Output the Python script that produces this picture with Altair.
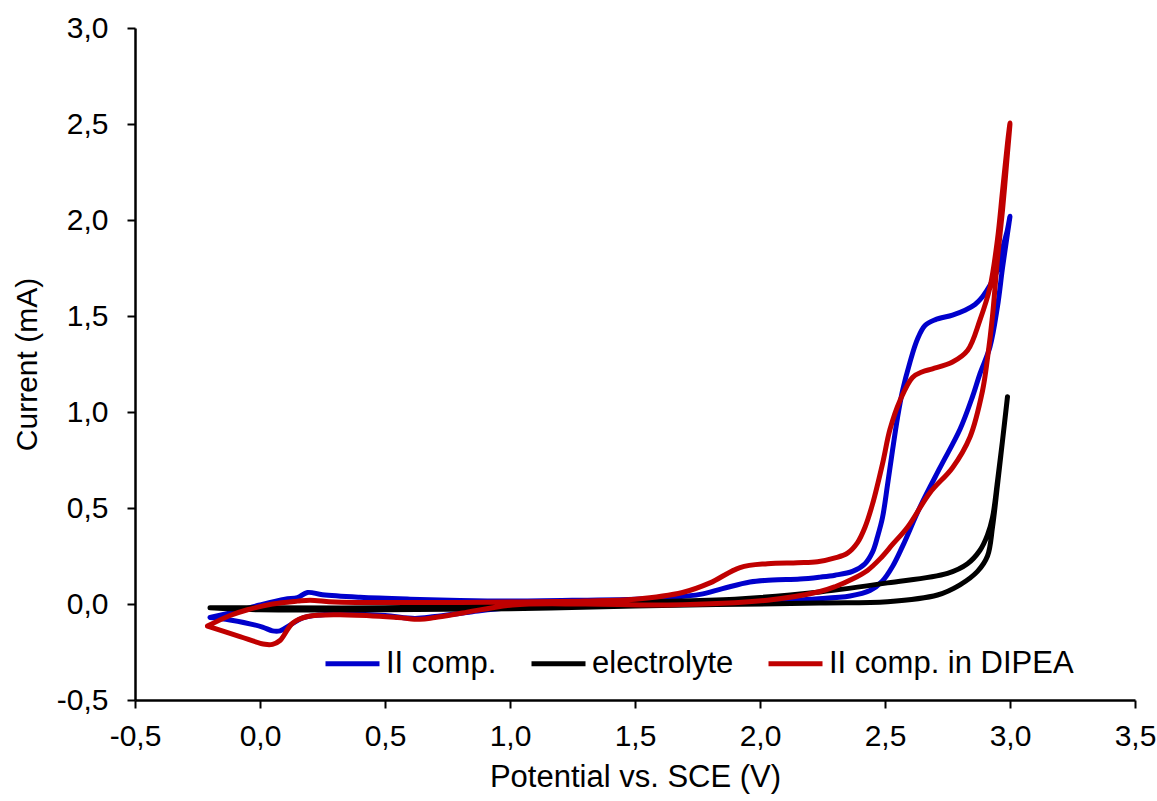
import altair as alt
import pandas as pd

series_names = ["II comp.", "electrolyte", "II comp. in DIPEA"]
series_colors = ["#0000CC", "#000000", "#C00000"]

# II comp. (closed CV loop, in path order)
blue_x = [-0.20, -0.10, 0.00, 0.10, 0.15, 0.19, 0.25, 0.40, 0.60, 0.80, 1.00, 1.30, 1.50, 1.65, 1.76,
          1.85, 1.96, 2.05, 2.16, 2.24, 2.30, 2.37, 2.42, 2.45, 2.47, 2.49, 2.51, 2.53, 2.55, 2.57,
          2.60, 2.63, 2.66, 2.70, 2.77, 2.82, 2.86, 2.89, 2.92, 2.95, 2.97, 2.99, 3.00,
          2.99, 2.97, 2.95, 2.92, 2.88, 2.85, 2.80, 2.72, 2.64, 2.57, 2.53, 2.49, 2.44, 2.36,
          2.20, 2.03, 1.80, 1.50, 1.20, 1.00, 0.85, 0.70, 0.62, 0.50, 0.35, 0.24, 0.17, 0.12,
          0.08, 0.05, 0.01, -0.12, -0.20]
blue_y = [-0.070, -0.040, -0.005, 0.025, 0.033, 0.060, 0.048, 0.035, 0.025, 0.018, 0.015, 0.020, 0.025, 0.035, 0.050,
          0.080, 0.115, 0.125, 0.130, 0.140, 0.150, 0.170, 0.210, 0.270, 0.350, 0.450, 0.620, 0.800, 0.970, 1.110,
          1.260, 1.380, 1.450, 1.480, 1.505, 1.530, 1.560, 1.600, 1.660, 1.740, 1.850, 1.950, 2.020,
          1.930, 1.750, 1.550, 1.340, 1.200, 1.080, 0.910, 0.710, 0.505, 0.300, 0.195, 0.120, 0.070, 0.042,
          0.025, 0.010, 0.005, 0.000, -0.010, -0.020, -0.040, -0.065, -0.075, -0.060, -0.052, -0.057, -0.073, -0.110,
          -0.140, -0.140, -0.120, -0.083, -0.070]

# electrolyte
black_x = [-0.20, 0.00, 0.50, 1.00, 1.50, 1.90, 2.24, 2.51, 2.75, 2.83, 2.88, 2.91, 2.93, 2.95, 2.97, 2.99,
           2.97, 2.95, 2.93, 2.91, 2.87, 2.80, 2.71, 2.51, 2.24, 1.50, 1.00, 0.50, 0.00, -0.20]
black_y = [-0.020, -0.020, -0.020, -0.010, 0.010, 0.025, 0.063, 0.110, 0.160, 0.210, 0.280, 0.360, 0.450, 0.640, 0.850, 1.080,
           0.850, 0.620, 0.400, 0.250, 0.170, 0.100, 0.047, 0.012, 0.005, -0.010, -0.025, -0.030, -0.030, -0.020]

# II comp. in DIPEA
red_x = [-0.21, -0.12, -0.05, 0.05, 0.15, 0.20, 0.30, 0.60, 1.00, 1.30, 1.50, 1.69, 1.80, 1.92, 2.03,
         2.15, 2.23, 2.30, 2.35, 2.39, 2.42, 2.45, 2.49, 2.52, 2.56, 2.61, 2.65, 2.69, 2.77, 2.83, 2.88,
         2.92, 2.95, 2.97, 2.99, 3.00,
         2.99, 2.97, 2.95, 2.93, 2.91, 2.89, 2.84, 2.77, 2.68, 2.59, 2.53, 2.48, 2.43, 2.37, 2.30, 2.24,
         2.03, 1.63, 1.30, 1.01, 0.81, 0.70, 0.64, 0.55, 0.35, 0.19, 0.13, 0.08, 0.05, 0.02, -0.08, -0.21]
red_y = [-0.115, -0.060, -0.030, 0.000, 0.015, 0.020, 0.010, 0.008, 0.010, 0.015, 0.025, 0.060, 0.110, 0.190, 0.210,
         0.215, 0.220, 0.240, 0.265, 0.320, 0.400, 0.520, 0.730, 0.910, 1.060, 1.180, 1.210, 1.225, 1.260, 1.320, 1.480,
         1.650, 1.900, 2.150, 2.400, 2.505,
         2.350, 2.050, 1.800, 1.500, 1.280, 1.110, 0.870, 0.710, 0.580, 0.400, 0.310, 0.235, 0.175, 0.130, 0.090, 0.065,
         0.020, -0.005, 0.000, -0.005, -0.047, -0.070, -0.080, -0.070, -0.057, -0.065, -0.100, -0.190, -0.210, -0.210, -0.170, -0.115]

x_ticks = [-0.5, 0.0, 0.5, 1.0, 1.5, 2.0, 2.5, 3.0, 3.5]
y_ticks = [-0.5, 0.0, 0.5, 1.0, 1.5, 2.0, 2.5, 3.0]

rows = []
for name, xs, ys in zip(series_names, [blue_x, black_x, red_x], [blue_y, black_y, red_y]):
    for i, (a, b) in enumerate(zip(xs, ys)):
        rows.append({"series": name, "potential": a, "current": b, "i": i})
df = pd.DataFrame(rows)

label_expr = "replace((datum.value < 0 ? '-' : '') + format(abs(datum.value), '.1f'), '.', ',')"
FONT = "Liberation Sans"

chart = alt.Chart(df).mark_line(
    strokeWidth=5, strokeCap="round", strokeJoin="round", interpolate="catmull-rom"
).encode(
    x=alt.X("potential:Q",
            scale=alt.Scale(domain=[-0.5, 3.5], nice=False, zero=False),
            axis=alt.Axis(title="Potential vs. SCE (V)", values=x_ticks, labelExpr=label_expr,
                          grid=False, domainColor="black", domainWidth=2.5, tickColor="black",
                          tickWidth=2, tickSize=8, labelFontSize=30, titleFontSize=31,
                          labelFont=FONT, titleFont=FONT, labelColor="black", titleColor="black",
                          titleFontWeight="normal", labelPadding=13, titlePadding=11,
                          labelFlush=False, labelOverlap=False)),
    y=alt.Y("current:Q",
            scale=alt.Scale(domain=[-0.5, 3.0], nice=False, zero=False),
            axis=alt.Axis(title="Current (mA)", values=y_ticks, labelExpr=label_expr,
                          grid=False, domainColor="black", domainWidth=2.5, tickColor="black",
                          tickWidth=2, tickSize=8, labelFontSize=30, titleFontSize=30,
                          labelFont=FONT, titleFont=FONT, labelColor="black", titleColor="black",
                          titleFontWeight="normal", labelPadding=19, titlePadding=14,
                          labelFlush=False, labelOverlap=False)),
    color=alt.Color("series:N",
                    scale=alt.Scale(domain=series_names, range=series_colors),
                    sort=series_names,
                    legend=alt.Legend(title=None, orient="none", legendX=188, legendY=606,
                                      direction="horizontal", symbolType="stroke",
                                      symbolSize=2916, symbolStrokeWidth=5,
                                      labelFontSize=31, labelFont=FONT, labelColor="black",
                                      labelOffset=4, columnPadding=24, padding=0,
                                      labelLimit=400)),
    detail="series:N",
    order="i:Q",
).properties(
    width=1000, height=672,
    autosize=alt.AutoSizeParams(type="none"),
    padding={"left": 135, "top": 28, "right": 22, "bottom": 101},
).configure(background="white").configure_view(strokeWidth=0)

chart.save("out.html", embed_options={"renderer": "svg", "actions": False})
